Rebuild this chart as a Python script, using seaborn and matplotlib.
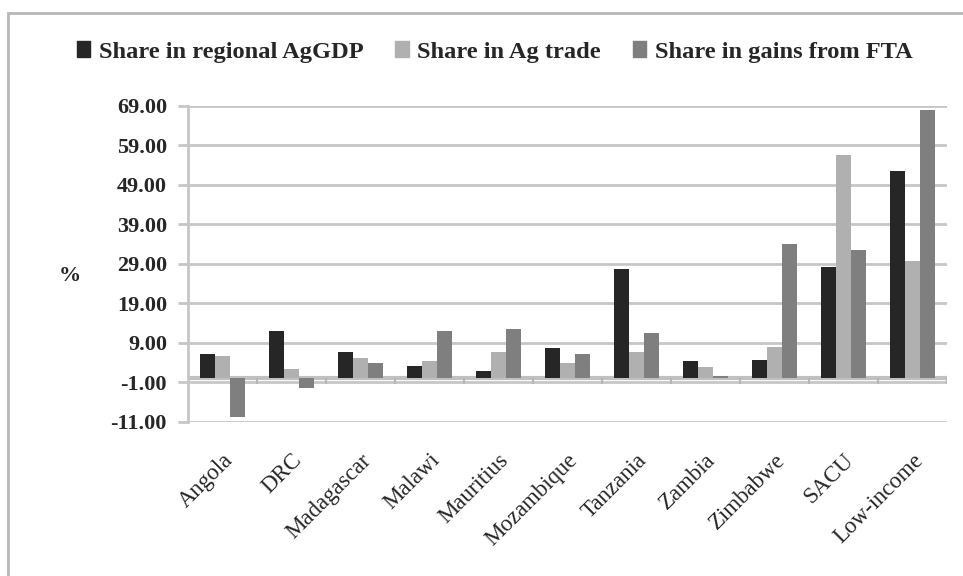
import matplotlib
matplotlib.use('Agg')
import matplotlib.pyplot as plt
from matplotlib.patches import Rectangle
import seaborn as sns
import pandas as pd

# 数据
categories = ['Angola', 'DRC', 'Madagascar', 'Malawi', 'Mauritius', 'Mozambique',
              'Tanzania', 'Zambia', 'Zimbabwe', 'SACU', 'Low-income']
share_agdp = [6.2, 12.0, 6.7, 3.2, 1.8, 7.7, 27.8, 4.3, 4.6, 28.1, 52.5]
share_trade = [5.6, 2.3, 5.1, 4.3, 6.7, 3.8, 6.7, 2.8, 8.0, 56.5, 29.6]
share_gains = [-9.7, -2.5, 3.8, 12.0, 12.5, 6.2, 11.5, 0.7, 34.0, 32.5, 67.9]
series_names = ['Share in regional AgGDP', 'Share in Ag trade', 'Share in gains from FTA']
y_ticks = [-11, -1, 9, 19, 29, 39, 49, 59, 69]

colors = ['#262626', '#b0b0b0', '#7f7f7f']
grid_col = '#c6c6c6'

sns.set_theme(style='white')
plt.rcParams['font.family'] = ['Liberation Serif', 'DejaVu Serif']

df = pd.DataFrame({
    'category': categories * 3,
    'value': share_agdp + share_trade + share_gains,
    'series': [s for s in series_names for _ in categories],
})

fig = plt.figure(figsize=(9.63, 5.76), dpi=100)
ax = fig.add_axes([0.195, 0.2674, 0.788, 0.5491])

sns.barplot(data=df, x='category', y='value', hue='series', palette=colors,
            width=0.65, saturation=1, edgecolor='none', ax=ax, legend=False)

ax.set_ylim(y_ticks[0], y_ticks[-1])
ax.set_xlim(-0.5, len(categories) - 0.5)
ax.set_yticks(y_ticks)
ax.set_yticklabels([f'{v:.2f}' for v in y_ticks], fontsize=16, fontweight='bold')
for v in y_ticks:
    ax.axhline(v, color=grid_col, lw=2, zorder=0)
ax.axhline(0, color='#c0c0c0', lw=3, zorder=0.5)
# 类别分隔刻度
ax.vlines([i - 0.5 for i in range(len(categories) + 1)], -1.5, 0, color='#b5b5b5', lw=1.5, zorder=0.6)

for s in ['top', 'right', 'bottom']:
    ax.spines[s].set_visible(False)
ax.spines['left'].set_color(grid_col)
ax.spines['left'].set_linewidth(2)
ax.tick_params(axis='y', direction='out', length=7, width=2, color=grid_col, pad=8, left=True)
ax.tick_params(axis='x', length=0, pad=20)
ax.set_xticks(range(len(categories)))
ax.set_xticklabels(categories, rotation=45, ha='right', rotation_mode='anchor', fontsize=16.5)
ax.set_xlabel('')
ax.set_ylabel('%', rotation=0, fontsize=16, fontweight='bold', va='center')
ax.yaxis.set_label_coords(-0.155, 0.46)

# 图例
handles = [Rectangle((0, 0), 1, 1, color=c) for c in colors]
fig.legend(handles, series_names, loc='center', bbox_to_anchor=(0.5135, 0.91), ncol=3,
           frameon=False, prop={'size': 17.6, 'weight': 'bold'}, handlelength=0.55,
           handleheight=0.6, handletextpad=0.35, columnspacing=1.3)

# 图表边框
fig.add_artist(Rectangle((0.008, -0.1), 1.1, 1.077, transform=fig.transFigure,
                         fill=False, edgecolor='#b8b8b8', lw=2))

fig.savefig('out.png', dpi=100)
